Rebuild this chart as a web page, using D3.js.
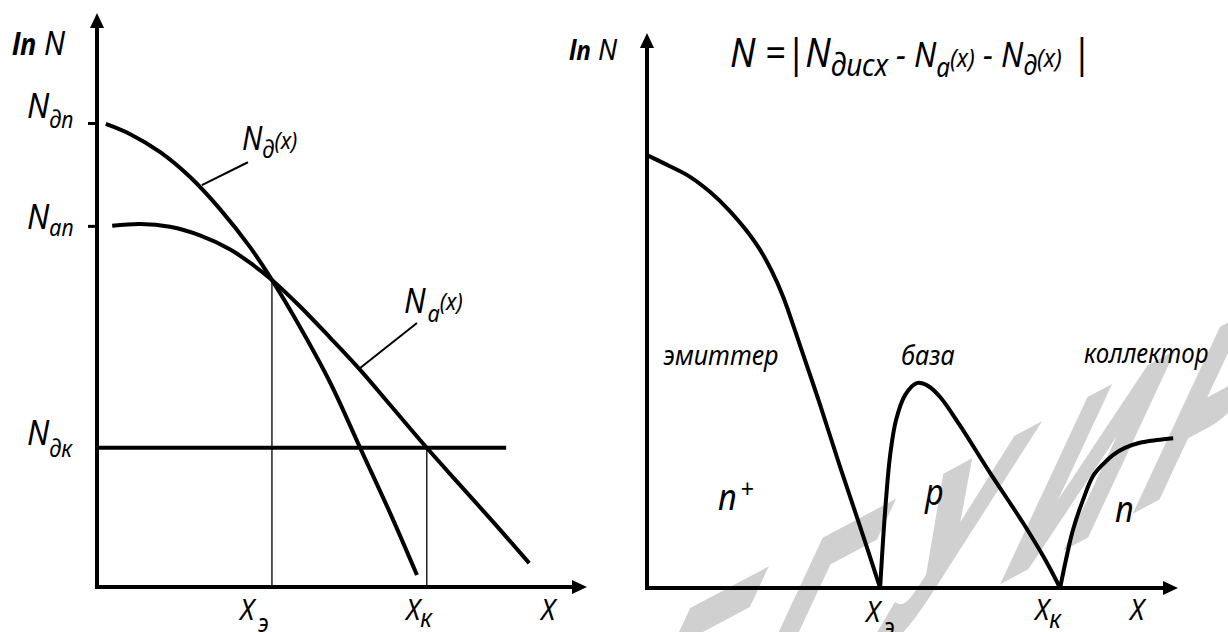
<!DOCTYPE html>
<html>
<head>
<meta charset="utf-8">
<script src="https://cdn.jsdelivr.net/npm/d3@7"></script>
<style>
  body { margin: 0; background: #fff; }
  svg { display: block; }
  text { font-family: "Noto Sans", "Open Sans", sans-serif; font-style: italic; fill: #000; }
</style>
</head>
<body>
<svg id="chart" width="1228" height="632"></svg>
<script>
// ---- Left panel: doping profiles, ln N versus depth x ----
const donorX    = [0.18, 0.67, 1.29, 1.90, 2.51, 3.12, 3.57, 4.14, 4.76, 5.37, 5.98, 6.53];
const donorY    = [9.68, 9.47, 9.09, 8.57, 7.90, 7.11, 6.42, 5.44, 4.27, 2.91, 1.55, 0.25];
const acceptorX = [0.31, 0.88, 1.49, 2.10, 2.71, 3.12, 3.57, 4.14, 4.76, 5.37, 5.98, 6.73, 7.41, 8.12, 8.82];
const acceptorY = [7.55, 7.59, 7.53, 7.35, 7.06, 6.78, 6.42, 5.87, 5.21, 4.54, 3.81, 2.91, 2.13, 1.32, 0.50];
const collectorLevel = 2.91;          // N_дк, initial donor level
const collectorLevelEnd = 8.35;
const leftTickValues = [9.7, 7.55];   // N_дп, N_ап
const junctionE = 3.57, junctionEY = 6.42;
const junctionK = 6.73;

// ---- Right panel: net concentration |N_дисх - N_a(x) - N_д(x)| ----
const emitterX   = [0, 0.43, 0.81, 1.19, 1.56, 1.85, 2.13, 2.35, 2.56, 2.88, 3.26, 3.63, 4.01, 4.39];
const emitterY   = [9.36, 9.12, 8.89, 8.56, 8.15, 7.76, 7.31, 6.85, 6.31, 5.25, 3.96, 2.64, 1.34, 0];
const baseX      = [4.39, 4.44, 4.50, 4.58, 4.69, 4.86, 5.08, 5.29, 5.52, 5.89, 6.46, 7.08, 7.50, 7.78];
const baseY      = [0, 0.93, 1.90, 2.88, 3.63, 4.17, 4.43, 4.37, 4.13, 3.52, 2.49, 1.41, 0.61, 0];
const collectorX = [7.78, 7.89, 8.02, 8.21, 8.40, 8.59, 8.78, 9.00, 9.28, 9.60, 9.91];
const collectorY = [0, 0.61, 1.25, 1.90, 2.42, 2.68, 2.88, 3.03, 3.14, 3.20, 3.24];

const regionNames = ["эмиттер", "база", "коллектор"];
const regionTypes = ["n", "p", "n"];
const watermark = "БГУИР";

const svg = d3.select("#chart");

// scales
const xL = d3.scaleLinear().domain([0, 10]).range([97, 587]);
const yL = d3.scaleLinear().domain([0, 12]).range([587, 13]);
const xR = d3.scaleLinear().domain([0, 10]).range([647, 1178]);
const yR = d3.scaleLinear().domain([0, 12]).range([588, 33]);

// watermark: slanted grey letters rising along a diagonal
{
  const dir = [0.883, -0.469], up = [0.423, -0.906];
  const pitch = 150, narrow = 0.56, start = [600, 792];
  watermark.split("").forEach((ch, i) => {
    const ox = start[0] + i * pitch * dir[0], oy = start[1] + i * pitch * dir[1];
    svg.append("text")
      .attr("transform", `matrix(${dir[0] * narrow},${dir[1] * narrow},${-up[0]},${-up[1]},${ox},${oy})`)
      .attr("font-size", 280)
      .style("font-family", "'Liberation Sans', Arial, sans-serif")
      .style("font-style", "normal")
      .style("font-weight", 700)
      .style("fill", "#d0d0d0")
      .style("stroke", "#d0d0d0")
      .style("stroke-width", 14)
      .style("stroke-linejoin", "miter")
      .text(ch);
  });
}

const zip = (xs, ys) => xs.map((x, i) => [x, ys[i]]);

function curve(g, xs, ys, sx, sy, w) {
  g.append("path")
    .attr("d", d3.line().x(d => sx(d[0])).y(d => sy(d[1])).curve(d3.curveCatmullRom.alpha(0.5))(zip(xs, ys)))
    .attr("fill", "none").attr("stroke", "#000").attr("stroke-width", w)
    .attr("stroke-linejoin", "round").attr("stroke-linecap", "butt");
}

function arrowAxes(g, sx, sy, xMax, yMax, ticks) {
  // y axis with small ticks
  const ay = d3.axisLeft(sy).tickValues(ticks).tickSize(9).tickSizeOuter(0).tickFormat("");
  const gy = g.append("g").attr("transform", `translate(${sx(0)},0)`).call(ay);
  gy.select(".domain").attr("stroke-width", 4).attr("d", `M0,${sy(0) + 2}V${sy(yMax) + 12}`);
  gy.selectAll(".tick line").attr("stroke-width", 3);
  // x axis
  g.append("line").attr("x1", sx(0) - 2).attr("x2", sx(xMax) - 12)
    .attr("y1", sy(0)).attr("y2", sy(0)).attr("stroke", "#000").attr("stroke-width", 4);
  // arrowheads
  g.append("path").attr("d", `M${sx(0)},${sy(yMax)}L${sx(0) - 7},${sy(yMax) + 15}L${sx(0) + 7},${sy(yMax) + 15}Z`);
  g.append("path").attr("d", `M${sx(xMax)},${sy(0)}L${sx(xMax) - 15},${sy(0) - 7}L${sx(xMax) - 15},${sy(0) + 7}Z`);
}

const SX = 0.9; // slightly condensed lettering
function richText(parent, x, y, parts, scaleX) {
  const t = parent.append("text")
    .attr("transform", `translate(${x},${y}) scale(${scaleX || SX},1)`);
  let cur = 0;
  parts.forEach(p => {
    const off = p.b || 0;
    const ts = t.append("tspan").attr("dy", off - cur).attr("font-size", p.s).text(p.t);
    if (p.dx) ts.attr("dx", p.dx);
    if (p.w) ts.attr("font-weight", p.w);
    cur = off;
  });
  return t;
}

// ---------- left panel ----------
const L = svg.append("g");
// projection lines at junctions
L.append("line").attr("x1", xL(junctionE)).attr("x2", xL(junctionE))
  .attr("y1", yL(junctionEY)).attr("y2", yL(0)).attr("stroke", "#222").attr("stroke-width", 1.5);
L.append("line").attr("x1", xL(junctionK)).attr("x2", xL(junctionK))
  .attr("y1", yL(collectorLevel)).attr("y2", yL(0)).attr("stroke", "#222").attr("stroke-width", 1.5);
// collector background level
L.append("line").attr("x1", xL(0)).attr("x2", xL(collectorLevelEnd))
  .attr("y1", yL(collectorLevel)).attr("y2", yL(collectorLevel)).attr("stroke", "#000").attr("stroke-width", 4);
curve(L, donorX, donorY, xL, yL, 4);
curve(L, acceptorX, acceptorY, xL, yL, 4);
arrowAxes(L, xL, yL, 10, 12, leftTickValues);
// leader lines
L.append("line").attr("x1", xL(2.14)).attr("y1", yL(8.4)).attr("x2", xL(3.08)).attr("y2", yL(8.88))
  .attr("stroke", "#000").attr("stroke-width", 2);
L.append("line").attr("x1", xL(5.37)).attr("y1", yL(4.58)).attr("x2", xL(6.53)).attr("y2", yL(5.52))
  .attr("stroke", "#000").attr("stroke-width", 2);

// left labels
richText(L, 12, 55, [{t: "ln", s: 30, w: 700}, {t: " N", s: 33}]);
richText(L, 27, 118, [{t: "N", s: 35}, {t: "дп", s: 24, b: 10}]);
richText(L, 27, 229, [{t: "N", s: 35}, {t: "ап", s: 24, b: 7}]);
richText(L, 27, 445, [{t: "N", s: 35}, {t: "дк", s: 24, b: 12}]);
richText(L, 242, 150, [{t: "N", s: 32}, {t: "д", s: 24, b: 8}, {t: "(x)", s: 24, b: -1}]);
richText(L, 404, 313, [{t: "N", s: 34}, {t: "a", s: 24, b: 9, dx: 2}, {t: "(x)", s: 24, b: -3}]);
richText(L, 240, 620, [{t: "X", s: 30}, {t: "э", s: 26, b: 12, dx: 4}]);
richText(L, 406, 620, [{t: "X", s: 30}, {t: "к", s: 26, b: 7}]);
richText(L, 541, 620, [{t: "X", s: 30}]);

// ---------- right panel ----------
const R = svg.append("g");
curve(R, emitterX, emitterY, xR, yR, 4);
curve(R, baseX, baseY, xR, yR, 4);
curve(R, collectorX, collectorY, xR, yR, 4);
arrowAxes(R, xR, yR, 10, 12, []);

richText(R, 569, 60, [{t: "ln", s: 27, w: 700}, {t: " N", s: 30}]);
richText(R, 730, 67, [
  {t: "N =|N", s: 40},
  {t: "дисх", s: 31, b: 9},
  {t: " - N", s: 35, b: 0},
  {t: "a", s: 27, b: 10},
  {t: "(x)", s: 26, b: 0},
  {t: " - N", s: 35, b: 0},
  {t: "д", s: 27, b: 8},
  {t: "(x)", s: 26, b: 0},
  {t: " |", s: 40, b: 0}
]);
richText(R, 663, 365, [{t: regionNames[0], s: 28}]);
richText(R, 901, 365, [{t: regionNames[1], s: 28}]);
richText(R, 1084, 363, [{t: regionNames[2], s: 28}], 0.86);
richText(R, 718, 510, [{t: regionTypes[0], s: 36}, {t: "+", s: 26, b: -12, dx: 4}]);
richText(R, 925, 505, [{t: regionTypes[1], s: 36}]);
richText(R, 1115, 522, [{t: regionTypes[2], s: 36}]);
richText(R, 866, 622, [{t: "X", s: 30}, {t: "э", s: 26, b: 14, dx: 4}]);
richText(R, 1035, 620, [{t: "X", s: 30}, {t: "к", s: 26, b: 8}]);
richText(R, 1130, 620, [{t: "X", s: 30}]);
</script>
</body>
</html>
